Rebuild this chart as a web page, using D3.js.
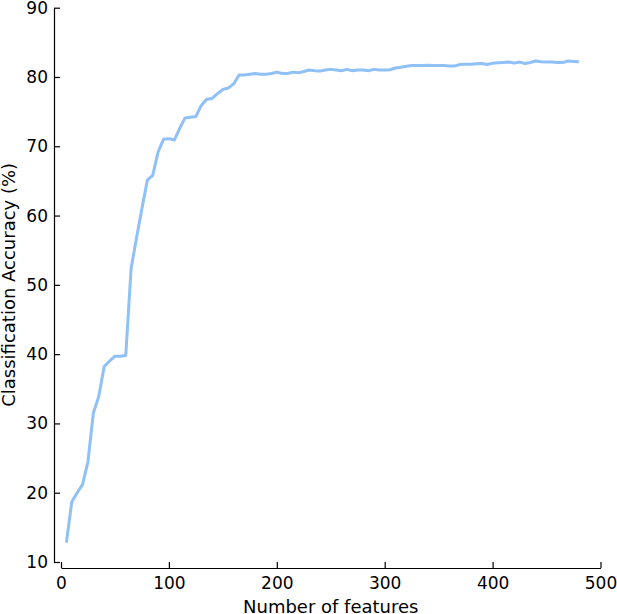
<!DOCTYPE html>
<html>
<head>
<meta charset="utf-8">
<script src="https://cdn.jsdelivr.net/npm/d3@7"></script>
<style>
  body { margin: 0; background: #fff; }
  text { font-family: "DejaVu Sans", sans-serif; }
</style>
</head>
<body>
<div id="wrapper"></div>
<script>
// number of features used (step of 5)
const features = [
  5, 10, 15, 20, 25, 30, 35, 40, 45, 50,
  55, 60, 65, 70, 75, 80, 85, 90, 95, 100,
  105, 110, 115, 120, 125, 130, 135, 140, 145, 150,
  155, 160, 165, 170, 175, 180, 185, 190, 195, 200,
  205, 210, 215, 220, 225, 230, 235, 240, 245, 250,
  255, 260, 265, 270, 275, 280, 285, 290, 295, 300,
  305, 310, 315, 320, 325, 330, 335, 340, 345, 350,
  355, 360, 365, 370, 375, 380, 385, 390, 395, 400,
  405, 410, 415, 420, 425, 430, 435, 440, 445, 450,
  455, 460, 465, 470, 475, 480
]
// classification accuracy (%)
const accuracy = [
  12.8, 18.7, 20.0, 21.2, 24.5, 31.5, 33.9, 38.2, 39.0, 39.7,
  39.7, 39.8, 52.4, 56.8, 61.0, 65.1, 65.8, 69.2, 71.0, 71.1,
  70.9, 72.6, 74.1, 74.2, 74.3, 75.9, 76.8, 76.9, 77.6, 78.2,
  78.4, 79.0, 80.3, 80.3, 80.4, 80.5, 80.4, 80.4, 80.5, 80.7,
  80.5, 80.5, 80.7, 80.6, 80.8, 81.0, 80.9, 80.85, 81.0, 81.1,
  81.0, 80.9, 81.1, 80.9, 81.0, 81.0, 80.9, 81.1, 81.0, 81.0,
  81.05, 81.3, 81.4, 81.55, 81.65, 81.65, 81.65, 81.7, 81.65, 81.65,
  81.65, 81.6, 81.6, 81.8, 81.85, 81.85, 81.9, 81.95, 81.8, 82.0,
  82.05, 82.1, 82.15, 82.0, 82.15, 81.95, 82.1, 82.3, 82.2, 82.15,
  82.15, 82.1, 82.1, 82.3, 82.25, 82.2
]
const xTicks = [0, 100, 200, 300, 400, 500]
const yTicks = [10, 20, 30, 40, 50, 60, 70, 80, 90]

const xLabelText = "Number of features"
const yLabelText = "Classification Accuracy (%)"

const dimensions = {
  width: 617,
  height: 614,
  left: 61,
  right: 600.5,
  top: 7.7,
  bottom: 562,
  leftSpine: 54,
  bottomSpine: 568,
}

const svg = d3.select("#wrapper")
  .append("svg")
  .attr("width", dimensions.width)
  .attr("height", dimensions.height)

const xScale = d3.scaleLinear()
  .domain([0, 500])
  .range([dimensions.left, dimensions.right])

const yScale = d3.scaleLinear()
  .domain([10, 90])
  .range([dimensions.bottom, dimensions.top])

// offset spines, ticks pointing inward
const xAxis = svg.append("g")
  .attr("transform", `translate(0,${dimensions.bottomSpine})`)
  .call(d3.axisBottom(xScale).tickValues(xTicks).tickFormat(d3.format("d"))
    .tickSizeInner(-6).tickSizeOuter(0).tickPadding(9))

const yAxis = svg.append("g")
  .attr("transform", `translate(${dimensions.leftSpine},0)`)
  .call(d3.axisLeft(yScale).tickValues(yTicks).tickFormat(d3.format("d"))
    .tickSizeInner(-6).tickSizeOuter(0).tickPadding(6))

svg.selectAll(".domain, .tick line")
  .attr("stroke", "#000")
  .attr("stroke-width", 1.2)

svg.selectAll(".tick text")
  .attr("fill", "#000")
  .attr("font-size", "17px")
  .attr("font-family", "DejaVu Sans, sans-serif")

svg.append("text")
  .attr("x", (dimensions.left + dimensions.right) / 2)
  .attr("y", 612.5)
  .attr("text-anchor", "middle")
  .attr("font-size", "18px")
  .attr("fill", "#000")
  .text(xLabelText)

svg.append("text")
  .attr("transform", `translate(14.5,${(dimensions.top + dimensions.bottom) / 2}) rotate(-90)`)
  .attr("text-anchor", "middle")
  .attr("font-size", "18px")
  .attr("fill", "#000")
  .text(yLabelText)

const points = features.map((f, i) => [f, accuracy[i]])

const line = d3.line()
  .x(d => xScale(d[0]))
  .y(d => yScale(d[1]))

svg.append("path")
  .datum(points)
  .attr("d", line)
  .attr("fill", "none")
  .attr("stroke", "#8fc0f6")
  .attr("stroke-width", 3)
  .attr("stroke-linejoin", "round")
</script>
</body>
</html>
